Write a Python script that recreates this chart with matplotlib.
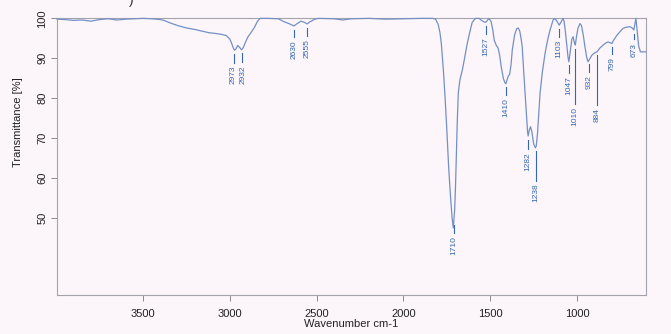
import numpy as np
import matplotlib
matplotlib.use("Agg")
import matplotlib.pyplot as plt

plt.rcParams['font.family'] = ['Liberation Sans', 'DejaVu Sans']

# IR spectrum, wavenumber (cm-1) and transmittance (%)
wavenumber = [
    3995, 3950, 3900, 3850, 3800, 3750, 3700, 3650, 3600, 3550, 3500, 3450,
    3400, 3380, 3340, 3300, 3250, 3200, 3160, 3120, 3080, 3050, 3020, 3000,
    2990, 2980, 2973, 2965, 2955, 2945, 2932, 2922, 2910, 2895, 2880, 2860,
    2840, 2825, 2780, 2720, 2690, 2660, 2640, 2630, 2615, 2590, 2570, 2555,
    2540, 2510, 2490, 2400, 2350, 2300, 2200, 2100, 2000, 1900, 1830, 1815,
    1800, 1790, 1782, 1770, 1760, 1750, 1740, 1730, 1720, 1713, 1705, 1700,
    1696, 1690, 1684, 1675, 1661, 1650, 1632, 1618, 1604, 1585, 1565, 1550,
    1535, 1527, 1518, 1508, 1495, 1485, 1477, 1465, 1455, 1445, 1437, 1425,
    1415, 1410, 1403, 1395, 1388, 1380, 1373, 1360, 1348, 1339, 1330, 1322,
    1316, 1305, 1293, 1285, 1282, 1275, 1268, 1260, 1250, 1240, 1235, 1228,
    1220, 1213, 1200, 1184, 1170, 1156, 1138, 1127, 1115, 1103, 1092, 1081,
    1075, 1068, 1060, 1052, 1047, 1040, 1030, 1023, 1015, 1010, 1003, 995,
    983, 975, 965, 955, 945, 937, 925, 914, 900, 885, 870, 850,
    835, 822, 810, 799, 790, 770, 750, 735, 715, 695, 683, 673,
    667, 661, 654, 645, 635, 620, 605,
]
transmittance = [
    99.8, 99.7, 99.5, 99.6, 99.3, 99.7, 99.9, 99.6, 99.8, 99.9, 100.0, 99.9,
    99.7, 99.5, 98.8, 98.2, 97.6, 97.2, 96.8, 96.4, 96.2, 96.0, 95.7, 94.8,
    93.8, 92.6, 92.0, 92.3, 93.2, 92.8, 92.1, 92.7, 94.0, 95.4, 96.3, 97.6,
    99.3, 100.0, 100.0, 99.9, 99.2, 98.7, 98.3, 98.1, 98.6, 99.3, 99.0, 98.6,
    99.1, 99.8, 100.0, 99.9, 99.6, 99.9, 100.0, 99.8, 99.9, 100.0, 100.0, 99.8,
    98.5, 96.5, 93.8, 87.0, 80.0, 72.0, 63.0, 56.0, 50.0, 47.4, 52.0, 58.0,
    64.5, 74.0, 81.3, 84.5, 87.0, 89.5, 93.8, 96.5, 99.0, 100.0, 100.0, 99.5,
    99.1, 99.0, 99.4, 100.0, 99.2, 97.0, 94.5, 93.2, 92.6, 90.5, 87.9, 85.0,
    83.8, 83.6, 84.6, 85.6, 86.0, 88.5, 92.1, 95.8, 97.4, 97.6, 96.8, 94.8,
    92.9, 85.0, 77.0, 71.5, 70.5, 72.0, 72.8, 71.5, 68.5, 67.5, 68.0, 71.0,
    76.5, 81.3, 86.5, 91.3, 94.5, 97.0, 99.6, 100.0, 99.2, 98.3, 99.1, 100.0,
    99.3, 97.0, 93.5, 90.2, 89.1, 91.5, 94.8, 95.4, 93.8, 93.3, 95.5, 97.5,
    98.7, 98.2, 96.0, 93.0, 90.3, 89.1, 90.0, 90.8, 91.3, 91.6, 92.5, 93.3,
    93.8, 94.1, 93.9, 93.7, 94.5, 95.8, 96.8, 97.5, 97.8, 97.9, 97.6, 97.1,
    98.5, 100.0, 97.0, 93.0, 91.6, 91.6, 91.6,
]

# labelled bands
peaks = [2973, 2932, 2630, 2555, 1710, 1527, 1410, 1282, 1238,
         1103, 1047, 1010, 932, 884, 799, 673]
# length of the marker line under each band label (% units)
tick_len = [2.2, 2.2, 2.0, 2.0, 2.0, 2.0, 2.0, 2.5, 7.5,
            2.0, 1.8, 13.8, 2.0, 12.5, 1.8, 1.5]
# sideways nudge (points) for the two crowded labels
nudge = {2973: -1.2, 2932: 1.2}

bg = '#fcf5f9'
line_col = '#7390c6'
label_col = '#3568b4'
frame_col = '#a3a3ad'

fig = plt.figure(figsize=(6.71, 3.34), dpi=100, facecolor=bg)
ax = fig.add_axes([0.085, 0.117, 0.878, 0.828], facecolor=bg)

ax.plot(wavenumber, transmittance, color=line_col, lw=0.9, clip_on=False, zorder=3)

wn_asc = wavenumber[::-1]
tr_asc = transmittance[::-1]
for p, ln in zip(peaks, tick_len):
    t = np.interp(p, wn_asc, tr_asc)
    top = t - 0.9
    bottom = top - ln
    ax.plot([p, p], [top, bottom], color=label_col, lw=0.8)
    ax.annotate(str(p), xy=(p, bottom - 0.8), xytext=(nudge.get(p, 0), 0),
                textcoords='offset points', rotation=90, ha='center', va='top',
                fontsize=6.0, color=label_col)

ax.set_xlim(3995, 602)
ax.set_ylim(30.6, 100)
ax.set_xticks([3500, 3000, 2500, 2000, 1500, 1000])
ax.set_yticks([50, 60, 70, 80, 90, 100])
ax.tick_params(axis='both', colors='#8a8a8a', labelcolor='#222222',
               labelsize=8, length=4, width=0.7)
ax.tick_params(axis='x', pad=6)
ax.tick_params(axis='y', pad=3)
for lbl in ax.get_yticklabels():
    lbl.set_rotation(90)
    lbl.set_va('center')

for s in ax.spines.values():
    s.set_color(frame_col)
    s.set_linewidth(0.8)

ax.set_xlabel('Wavenumber cm-1', fontsize=8, color='#222222')
ax.set_ylabel('Transmittance [%]', fontsize=8, color='#222222')
ax.xaxis.set_label_coords(0.5, -0.088)
ax.yaxis.set_label_coords(-0.058, 0.625)

# cut-off line of text above the plot
fig.text(0.195, 1.0, ')', fontsize=10, color='#333333', ha='center', va='center')

fig.savefig('out.png', dpi=100, facecolor=bg)
